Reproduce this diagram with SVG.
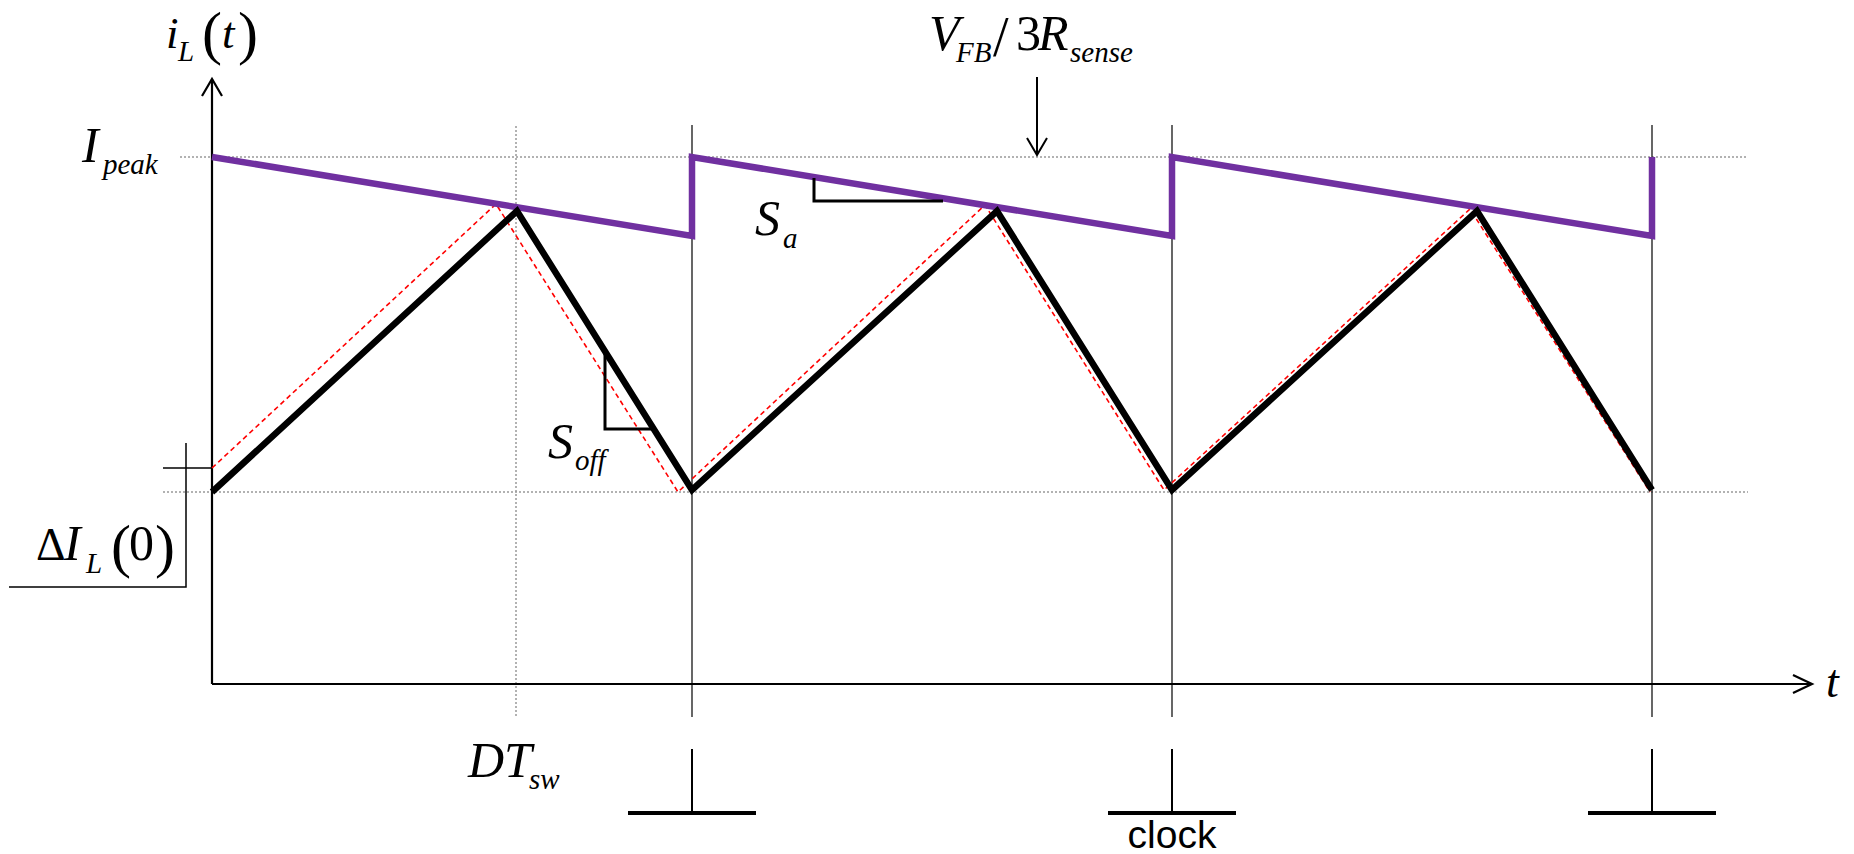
<svg xmlns="http://www.w3.org/2000/svg" width="1854" height="854" viewBox="0 0 1854 854">
<style>
.m{font-family:"Liberation Serif","Times New Roman",serif;font-style:italic;fill:#000}
.u{font-family:"Liberation Serif","Times New Roman",serif;font-style:normal;fill:#000}
.big{font-size:50px}
.sub{font-size:29px}
.par{font-size:60px}
.dot{stroke:#999;stroke-width:1.5;stroke-dasharray:2 2;fill:none}
.thin{stroke:#000;stroke-width:1.2;fill:none}
.ax{stroke:#000;stroke-width:2.2;fill:none}
.pulse{stroke:#000;fill:none}
</style>
<rect width="1854" height="854" fill="#fff"/>
<g id="gridlines">
<line class="dot" x1="180" y1="157" x2="1747" y2="157"/>
<line class="dot" x1="163" y1="492" x2="1748" y2="492"/>
<line class="dot" x1="516" y1="126" x2="516" y2="717"/>
<line class="thin" x1="692" y1="125" x2="692" y2="717"/>
<line class="thin" x1="1172" y1="125" x2="1172" y2="717"/>
<line class="thin" x1="1652" y1="125" x2="1652" y2="717"/>
</g>
<g id="axes">
<line class="ax" x1="212" y1="684" x2="212" y2="79"/>
<polyline class="ax" points="202,96 212,79 222,96"/>
<line class="ax" x1="212" y1="684" x2="1812" y2="684"/>
<polyline class="ax" points="1793,675 1812,684 1793,693"/>
</g>
<g id="delta-marker" stroke="#000" stroke-width="1.5" fill="none">
<line x1="163" y1="468" x2="212" y2="468"/>
<polyline points="186,443 186,587 9,587"/>
</g>
<g id="connectors">
<polyline points="212,468 496,204 678,492 985,205 1164,490 1470,209 1650,492" fill="none" stroke="#ff0000" stroke-width="1.6" stroke-dasharray="5 3.5"/>
<polyline points="212,157 692,236 692,157 1172,236 1172,157 1652,236 1652,157" fill="none" stroke="#7030A0" stroke-width="6.5"/>
<polyline points="212,492 517,211 692,490 997,211 1172,490 1477,211 1652,490" fill="none" stroke="#000" stroke-width="6.5" stroke-linejoin="miter"/>
<polyline points="814,178 814,201 943,201" fill="none" stroke="#000" stroke-width="3"/>
<polyline points="605,352 605,429 652,429" fill="none" stroke="#000" stroke-width="3"/>
<line x1="1037" y1="77" x2="1037" y2="155" stroke="#000" stroke-width="2"/>
<polyline points="1027,138 1037,155 1047,138" fill="none" stroke="#000" stroke-width="2"/>
</g>
<g id="clock-pulses">
<line class="pulse" stroke-width="2" x1="692" y1="749" x2="692" y2="813"/>
<line class="pulse" stroke-width="4" x1="628" y1="813" x2="756" y2="813"/>
<line class="pulse" stroke-width="2" x1="1172" y1="749" x2="1172" y2="813"/>
<line class="pulse" stroke-width="4" x1="1108" y1="813" x2="1236" y2="813"/>
<line class="pulse" stroke-width="2" x1="1652" y1="749" x2="1652" y2="813"/>
<line class="pulse" stroke-width="4" x1="1588" y1="813" x2="1716" y2="813"/>
</g>
<g id="label-iL">
<text class="m" x="166" y="48" font-size="45">i</text>
<text class="m sub" x="178" y="61">L</text>
<text class="u par" x="202" y="53">(</text>
<text class="m" x="222" y="48" font-size="45">t</text>
<text class="u par" x="238" y="53">)</text>
</g>
<g id="label-Ipeak">
<text class="m big" x="82" y="162">I</text>
<text class="m sub" x="103" y="174">peak</text>
</g>
<g id="label-dIL0">
<text class="u" x="36" y="560" font-size="46">Δ</text>
<text class="m big" x="64" y="560">I</text>
<text class="m sub" x="86" y="573">L</text>
<text class="u par" x="111" y="566">(</text>
<text class="u big" x="129" y="560">0</text>
<text class="u par" x="155" y="566">)</text>
</g>
<g id="label-VFB">
<text class="m big" x="929" y="50">V</text>
<text class="m sub" x="956" y="62">FB</text>
<text class="u" x="993" y="56" font-size="56">/</text>
<text class="u big" x="1016" y="50">3</text>
<text class="m big" x="1038" y="50">R</text>
<text class="m sub" x="1070" y="62">sense</text>
</g>
<g id="label-Sa">
<text class="m big" x="755" y="235">S</text>
<text class="m sub" x="783" y="248">a</text>
</g>
<g id="label-Soff">
<text class="m big" x="548" y="458">S</text>
<text class="m sub" x="575" y="470">off</text>
</g>
<g id="label-DTsw">
<text class="m big" x="468" y="777">DT</text>
<text class="m sub" x="529" y="789">sw</text>
</g>
<g id="label-t">
<text class="m" x="1826" y="697" font-size="46">t</text>
</g>
<g id="label-clock">
<text x="1172" y="848" text-anchor="middle" font-family="Liberation Sans, Arial, sans-serif" font-size="39">clock</text>
</g>
</svg>
